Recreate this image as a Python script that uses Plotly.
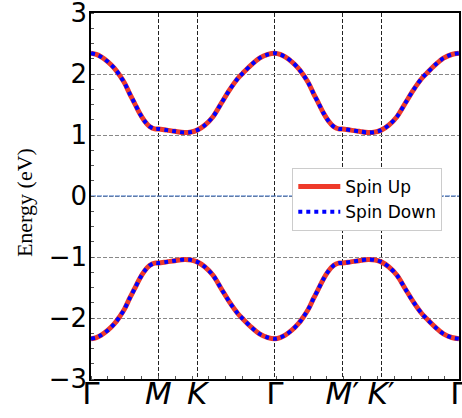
import plotly.graph_objects as go

# high-symmetry points along the k-path
tick_pos = [0.0, 0.577, 0.910, 1.577, 2.155, 2.488, 3.155]
tick_text = ["Γ", "<i>M</i>", "<i>K</i>", "Γ", "<i>M</i>′", "<i>K</i>′", "Γ"]

# k-path coordinates of the sampled band points
k = [0.000, 0.045, 0.088, 0.145, 0.203, 0.245, 0.288, 0.331, 0.374, 0.416, 0.459, 0.502, 0.545, 0.577,
     0.650, 0.720, 0.800, 0.860, 0.910, 0.975, 1.046, 1.117, 1.188, 1.260, 1.300, 1.374, 1.445, 1.516, 1.577,
     1.622, 1.665, 1.722, 1.780, 1.822, 1.865, 1.908, 1.951, 1.993, 2.036, 2.079, 2.122, 2.155,
     2.227, 2.297, 2.377, 2.437, 2.488, 2.552, 2.623, 2.694, 2.765, 2.837, 2.877, 2.951, 3.022, 3.093, 3.155]

# conduction band (eV)
E_cond = [2.34, 2.32, 2.28, 2.20, 2.09, 1.98, 1.85, 1.68, 1.52, 1.36, 1.23, 1.14, 1.10, 1.10,
          1.08, 1.06, 1.04, 1.05, 1.08, 1.16, 1.30, 1.52, 1.74, 1.93, 2.01, 2.15, 2.26, 2.32, 2.34,
          2.32, 2.28, 2.20, 2.09, 1.98, 1.85, 1.68, 1.52, 1.36, 1.23, 1.14, 1.10, 1.10,
          1.08, 1.06, 1.04, 1.05, 1.08, 1.16, 1.30, 1.52, 1.74, 1.93, 2.01, 2.15, 2.26, 2.32, 2.34]

# valence band (eV)
E_val = [-2.34, -2.32, -2.28, -2.20, -2.09, -1.98, -1.85, -1.68, -1.52, -1.36, -1.23, -1.14, -1.10, -1.10,
         -1.08, -1.06, -1.04, -1.05, -1.08, -1.16, -1.30, -1.52, -1.74, -1.93, -2.01, -2.15, -2.26, -2.32, -2.34,
         -2.32, -2.28, -2.20, -2.09, -1.98, -1.85, -1.68, -1.52, -1.36, -1.23, -1.14, -1.10, -1.10,
         -1.08, -1.06, -1.04, -1.05, -1.08, -1.16, -1.30, -1.52, -1.74, -1.93, -2.01, -2.15, -2.26, -2.32, -2.34]

y_ticks = [-3, -2, -1, 0, 1, 2, 3]
y_labels = ["−3", "−2", "−1", "0", "1", "2", "3"]

RED = "#EE3A2A"
BLUE = "#0000FF"

fig = go.Figure()

# Fermi level line
fig.add_trace(go.Scatter(x=[tick_pos[0], tick_pos[-1]], y=[0, 0], mode="lines",
                         line=dict(color="#3A6EC2", width=1.2, dash="5px,1px"),
                         showlegend=False, hoverinfo="skip"))

for i, band in enumerate([E_cond, E_val]):
    fig.add_trace(go.Scatter(x=k, y=band, mode="lines", name="Spin Up",
                             line=dict(color=RED, width=5, shape="spline", smoothing=0.9),
                             showlegend=(i == 0), legendrank=1))
for i, band in enumerate([E_cond, E_val]):
    fig.add_trace(go.Scatter(x=k, y=band, mode="lines", name="Spin Down",
                             line=dict(color=BLUE, width=4, dash="dot", shape="spline", smoothing=0.9),
                             showlegend=(i == 0), legendrank=2))

fig.update_layout(
    width=462, height=418,
    margin=dict(l=91, r=3, t=13, b=39),
    plot_bgcolor="white", paper_bgcolor="white",
    font=dict(family="DejaVu Sans", color="black"),
    xaxis=dict(range=[tick_pos[0], tick_pos[-1]], tickmode="array", tickvals=tick_pos, ticktext=tick_text,
               tickfont=dict(size=31), ticks="", showgrid=True, gridcolor="#222222", griddash="4px,2px",
               gridwidth=1, showline=True, linecolor="black", linewidth=1.5, mirror=True, zeroline=False,
               automargin=False, ticklabeloverflow="allow", ticklabelstandoff=-14,
               minor=dict(ticks="inside", ticklen=3, tickcolor="#555", tickmode="linear", tick0=0, dtick=0.1445,
                          showgrid=False)),
    yaxis=dict(range=[-3, 3], tickmode="array", tickvals=y_ticks, ticktext=y_labels,
               tickfont=dict(size=26), ticks="", showgrid=True, gridcolor="#888888", griddash="4px,2px",
               gridwidth=1, showline=True, linecolor="black", linewidth=1.5, mirror=True, zeroline=False,
               automargin=False, ticklabeloverflow="allow", ticklabelstandoff=-3,
               minor=dict(ticks="inside", ticklen=3, tickcolor="#555", tickmode="linear", tick0=0, dtick=0.25,
                          showgrid=False)),
    legend=dict(x=0.547, y=0.5765, xanchor="left", yanchor="top", bgcolor="white",
                bordercolor="#CCCCCC", borderwidth=1, itemwidth=42,
                font=dict(size=17, family="DejaVu Sans")),
    annotations=[dict(text="Energy (eV)", x=-0.179, y=0.481, xref="paper", yref="paper",
                      textangle=-90, showarrow=False, font=dict(family="Liberation Serif", size=22),
                      xanchor="center", yanchor="middle")],
)

fig.write_html("out.html", config={"displayModeBar": False},
               post_script="document.body.style.margin='0';document.body.style.padding='0';")
